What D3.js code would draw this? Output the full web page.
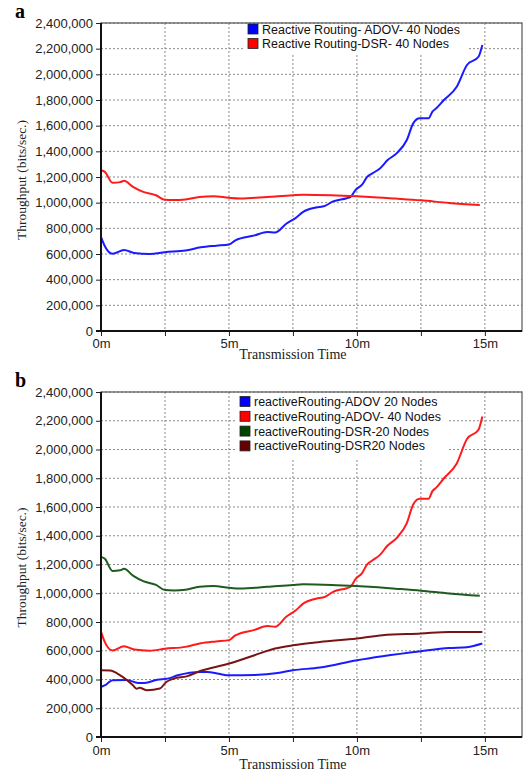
<!DOCTYPE html>
<html>
<head>
<meta charset="utf-8">
<script src="https://cdn.jsdelivr.net/npm/d3@7"></script>
<style>
  body { margin: 0; background: #fff; }
  svg { display: block; }
</style>
</head>
<body>
<div id="chart-container"></div>
<script>
// ---- data (minutes, bits/sec in thousands) ----
const adov40Time = [0, 0.15, 0.45, 0.9, 1.3, 1.9, 2.5, 3.3, 3.9, 4.5, 5.0, 5.25, 6.0, 6.5, 6.8, 7.25, 7.6, 7.9, 8.4, 8.75, 9.07, 9.6, 9.75, 9.95, 10.2, 10.4, 10.6, 10.9, 11.2, 11.55, 11.95, 12.2, 12.45, 12.8, 12.95, 13.1, 13.4, 13.9, 14.3, 14.75, 14.9];
const adov40Value = [733, 660, 602, 632, 608, 600, 614, 627, 652, 665, 674, 707, 745, 772, 767, 838, 880, 928, 962, 975, 1010, 1035, 1045, 1100, 1140, 1201, 1228, 1267, 1332, 1384, 1488, 1618, 1657, 1657, 1710, 1735, 1800, 1903, 2073, 2137, 2229];

const dsr40Time = [0, 0.15, 0.45, 0.75, 0.9, 1.25, 1.65, 2.15, 2.5, 2.85, 3.3, 3.85, 4.4, 5.0, 5.45, 6.5, 7.5, 7.9, 9.0, 10.0, 10.5, 11.5, 12.5, 13.6, 14.8];
const dsr40Value = [1253, 1240, 1155, 1160, 1170, 1123, 1084, 1058, 1022, 1020, 1025, 1045, 1050, 1038, 1033, 1045, 1058, 1062, 1058, 1050, 1045, 1032, 1018, 998, 982];

const adov20Time = [0, 0.2, 0.45, 1.0, 1.45, 1.7, 2.2, 2.6, 3.0, 3.9, 4.15, 4.6, 5.0, 6.0, 6.9, 7.5, 8.55, 10.0, 11.0, 12.5, 13.6, 14.3, 14.9];
const adov20Value = [348, 365, 395, 397, 376, 376, 399, 406, 429, 452, 452, 440, 429, 432, 445, 464, 483, 534, 562, 597, 619, 625, 650];

const dsr20Time = [0, 0.35, 0.75, 1.25, 1.4, 1.5, 1.8, 2.3, 2.55, 2.85, 3.35, 3.85, 5.0, 6.0, 6.8, 7.5, 8.55, 10.0, 11.0, 12.5, 13.6, 14.9];
const dsr20Value = [464, 462, 429, 360, 335, 343, 325, 337, 383, 406, 422, 457, 511, 569, 615, 638, 661, 685, 708, 720, 731, 731];

const yTickValues = [0, 200000, 400000, 600000, 800000, 1000000, 1200000, 1400000, 1600000, 1800000, 2000000, 2200000, 2400000];
const xTickValues = [0, 2.5, 5, 7.5, 10, 12.5, 15];
const xTickLabels = ["0m", "", "5m", "", "10m", "", "15m"];

const legendA = ["Reactive Routing- ADOV- 40 Nodes", "Reactive Routing-DSR- 40 Nodes"];
const legendB = ["reactiveRouting-ADOV 20 Nodes", "reactiveRouting-ADOV- 40 Nodes", "reactiveRouting-DSR-20 Nodes", "reactiveRouting-DSR20 Nodes"];

const toSeries = (ts, vs) => ts.map((t, i) => ({ t: t, v: vs[i] * 1000 }));

const svg = d3.select("#chart-container")
  .append("svg")
    .attr("width", 526)
    .attr("height", 774);

function drawChart(cfg) {
  const x = d3.scaleLinear().domain([0, 16.45]).range([cfg.left, cfg.right]);
  const y = d3.scaleLinear().domain([0, 2400000]).range([cfg.bottom, cfg.top]);

  const g = svg.append("g");

  // grid
  g.append("g")
    .selectAll("line")
    .data(yTickValues.slice(1))
    .join("line")
      .attr("x1", cfg.left).attr("x2", cfg.right)
      .attr("y1", d => y(d)).attr("y2", d => y(d))
      .attr("stroke", "#8a8a8a")
      .attr("stroke-width", 1)
      .attr("stroke-dasharray", "2,2");
  g.append("g")
    .selectAll("line")
    .data(xTickValues.slice(1))
    .join("line")
      .attr("x1", d => x(d)).attr("x2", d => x(d))
      .attr("y1", cfg.top).attr("y2", cfg.bottom)
      .attr("stroke", "#8a8a8a")
      .attr("stroke-width", 1)
      .attr("stroke-dasharray", "2,2");

  // frame
  g.append("rect")
    .attr("x", cfg.left).attr("y", cfg.top)
    .attr("width", cfg.right - cfg.left)
    .attr("height", cfg.bottom - cfg.top)
    .attr("fill", "none")
    .attr("stroke", "#555")
    .attr("stroke-width", 1.2);

  // legend box (covers grid)
  const lg = g.append("g");
  lg.append("rect")
    .attr("x", cfg.legendX - 4).attr("y", cfg.top + 1)
    .attr("width", cfg.legendW)
    .attr("height", cfg.legendH)
    .attr("fill", "#fff");
  cfg.legend.forEach((label, i) => {
    const ly = cfg.legendY + i * cfg.legendStep;
    lg.append("rect")
      .attr("x", cfg.legendX).attr("y", ly - 5)
      .attr("width", 10).attr("height", 10)
      .attr("fill", cfg.series[i].color)
      .attr("stroke", "#222")
      .attr("stroke-width", 0.8);
    lg.append("text")
      .attr("x", cfg.legendX + 14).attr("y", ly + 4.5)
      .style("font-family", "'Liberation Sans', Arial, sans-serif")
      .style("font-size", "12.5px")
      .attr("fill", "#111")
      .text(label);
  });

  // lines
  const line = d3.line()
    .x(d => x(d.t))
    .y(d => y(d.v))
    .curve(d3.curveMonotoneX);
  cfg.series.forEach(s => {
    g.append("path")
      .datum(s.data)
      .attr("fill", "none")
      .attr("stroke", s.line)
      .attr("stroke-width", 2)
      .attr("stroke-linejoin", "round")
      .attr("d", line);
  });

  // axes
  const yAxis = g.append("g")
    .attr("transform", `translate(${cfg.left},0)`)
    .call(d3.axisLeft(y)
      .tickValues(yTickValues)
      .tickFormat(d3.format(","))
      .tickSize(5)
      .tickPadding(3));
  const xAxis = g.append("g")
    .attr("transform", `translate(0,${cfg.bottom})`)
    .call(d3.axisBottom(x)
      .tickValues(xTickValues)
      .tickFormat((d, i) => xTickLabels[i])
      .tickSize(5)
      .tickPadding(cfg.xPad));
  [yAxis, xAxis].forEach(ax => {
    ax.select(".domain").remove();
    ax.selectAll(".tick line").attr("stroke", "#222");
    ax.selectAll("text")
      .style("font-family", "'Liberation Sans', Arial, sans-serif")
      .style("font-size", "13px")
      .attr("fill", "#222");
  });
  g.append("line")
    .attr("x1", cfg.left).attr("x2", cfg.left)
    .attr("y1", cfg.top).attr("y2", cfg.bottom)
    .attr("stroke", "#111").attr("stroke-width", 2);
  g.append("line")
    .attr("x1", cfg.left - 5).attr("x2", cfg.right)
    .attr("y1", cfg.bottom).attr("y2", cfg.bottom)
    .attr("stroke", "#111").attr("stroke-width", 2);

  // titles
  g.append("text")
    .attr("transform", `translate(26,${(cfg.top + cfg.bottom) / 2 + 3}) rotate(-90)`)
    .attr("text-anchor", "middle")
    .style("font-family", "'Liberation Serif', 'Times New Roman', serif")
    .style("font-size", "13.5px")
    .attr("fill", "#222")
    .text("Throughput (bits/sec.)");
  g.append("text")
    .attr("x", x(7.5)).attr("y", cfg.bottom + cfg.titleGap)
    .attr("text-anchor", "middle")
    .style("font-family", "'Liberation Serif', 'Times New Roman', serif")
    .style("font-size", "14px")
    .attr("fill", "#222")
    .text("Transmission Time");
  g.append("text")
    .attr("x", 15).attr("y", cfg.top - 5)
    .style("font-family", "'Liberation Serif', 'Times New Roman', serif")
    .style("font-size", "20px")
    .style("font-weight", "bold")
    .attr("fill", "#000")
    .text(cfg.letter);
}

drawChart({
  letter: "a",
  left: 101, right: 522, top: 23, bottom: 331,
  xPad: 3, titleGap: 28,
  legend: legendA,
  legendX: 248, legendY: 29, legendStep: 14.5, legendW: 224, legendH: 30,
  series: [
    { color: "#0000ff", line: "#1a1aff", data: toSeries(adov40Time, adov40Value) },
    { color: "#ff0000", line: "#ff1a1a", data: toSeries(dsr40Time, dsr40Value) }
  ]
});

drawChart({
  letter: "b",
  left: 101, right: 522, top: 392, bottom: 737,
  xPad: 4, titleGap: 32,
  legend: legendB,
  legendX: 240, legendY: 401.5, legendStep: 14.8, legendW: 212, legendH: 65,
  series: [
    { color: "#0000ff", line: "#1a1aff", data: toSeries(adov20Time, adov20Value) },
    { color: "#ff0000", line: "#ff1a1a", data: toSeries(adov40Time, adov40Value) },
    { color: "#004400", line: "#1f5a1f", data: toSeries(dsr40Time, dsr40Value) },
    { color: "#660000", line: "#7a1414", data: toSeries(dsr20Time, dsr20Value) }
  ]
});
</script>
</body>
</html>
